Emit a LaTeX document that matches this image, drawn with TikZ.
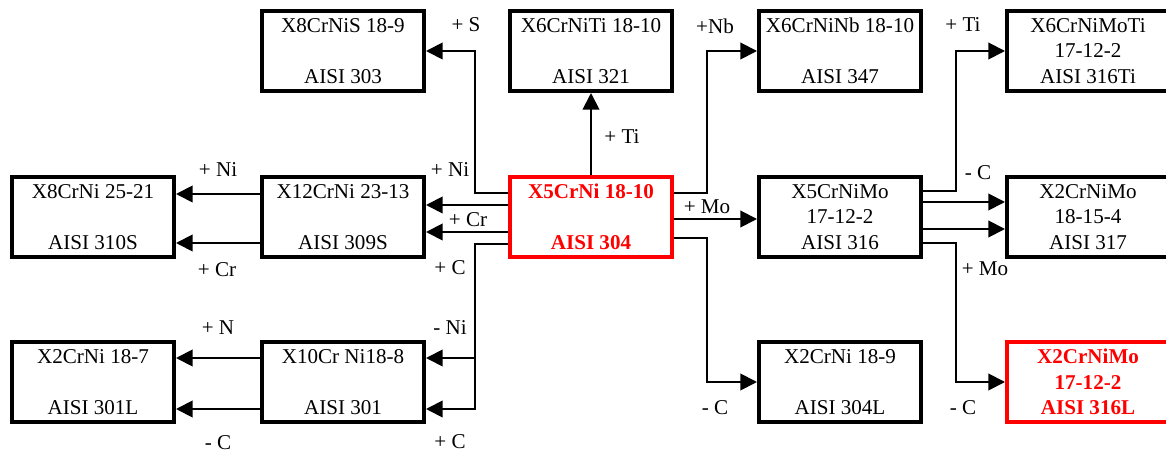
\documentclass[tikz,border=0pt]{standalone}
\usepackage{fontspec}
\setmainfont{Liberation Serif}
\usepackage{tikz}
\usetikzlibrary{positioning,arrows.meta}

\begin{document}
\begin{tikzpicture}[x=0.02cm,y=-0.02cm,
		every node/.style={font=\fontsize{12pt}{14.5pt}\selectfont},
		steel/.style={draw,line width=2.3pt,minimum width=3.24cm,minimum height=1.6cm,align=center,inner sep=1pt},
		base/.style={steel,draw=red,text=red,font=\fontsize{12pt}{14.5pt}\selectfont\bfseries},
		link/.style={line width=1.1pt,-{Triangle[length=9.5pt,width=9.5pt]}}]
	
	\useasboundingbox (0,0) rectangle (1166,452);
	
	% grades
	\node[steel] (s310) at (93,217) {X8CrNi 25-21\\~\\AISI 310S};
	\node[steel] (s301L) at (93,382) {X2CrNi 18-7\\~\\AISI 301L};
	\node[steel] (s303) at (343,51) {X8CrNiS 18-9\\~\\AISI 303};
	\node[steel] (s309) at (343,217) {X12CrNi 23-13\\~\\AISI 309S};
	\node[steel] (s301) at (343,382) {X10Cr Ni18-8\\~\\AISI 301};
	\node[steel] (s321) at (591,51) {X6CrNiTi 18-10\\~\\AISI 321};
	\node[base] (s304) at (591,217) {X5CrNi 18-10\\~\\AISI 304};
	\node[steel] (s347) at (840,51) {X6CrNiNb 18-10\\~\\AISI 347};
	\node[steel] (s316) at (840,217) {X5CrNiMo\\17-12-2\\AISI 316};
	\node[steel] (s304L) at (840,382) {X2CrNi 18-9\\~\\AISI 304L};
	\node[steel] (s316Ti) at (1088,51) {X6CrNiMoTi\\17-12-2\\AISI 316Ti};
	\node[steel] (s317) at (1088,217) {X2CrNiMo\\18-15-4\\AISI 317};
	\node[base] (s316L) at (1088,382) {X2CrNiMo\\17-12-2\\AISI 316L};
	
	% junctions
	\coordinate (jl) at (475,0);
	\coordinate (jr) at (707,0);
	\coordinate (jm) at (956,0);
	
	% from 304
	\draw[link] (s304) -- (s321);
	\draw[link] (s304.west |- 0,193) -| (jl |- s303) -- (s303);
	\draw[link] (s304.west |- 0,205) -- (s309.east |- 0,205);
	\draw[link] (s304.west |- 0,232) -- (s309.east |- 0,232);
	\draw[link] (s304.west |- 0,244) -| (jl |- 0,409) -- (s301.east |- 0,409);
	\draw[link] (jl |- 0,358) -- (s301.east |- 0,358);
	\draw[link] (s304.east |- 0,193) -| (jr |- s347) -- (s347);
	\draw[link] (s304.east |- 0,219) -- (s316.west |- 0,219);
	\draw[link] (s304.east |- 0,238) -| (jr |- s304L) -- (s304L);
	
	% from 316
	\draw[link] (s316.east |- 0,191) -| (jm |- s316Ti) -- (s316Ti);
	\draw[link] (s316.east |- 0,202) -- (s317.west |- 0,202);
	\draw[link] (s316.east |- 0,229) -- (s317.west |- 0,229);
	\draw[link] (s316.east |- 0,243) -| (jm |- s316L) -- (s316L);
	
	% side branches
	\draw[link] (s309.west |- 0,194) -- (s310.east |- 0,194);
	\draw[link] (s309.west |- 0,243) -- (s310.east |- 0,243);
	\draw[link] (s301.west |- 0,358) -- (s301L.east |- 0,358);
	\draw[link] (s301.west |- 0,409) -- (s301L.east |- 0,409);
	
	% additions
	\node (aS) at (466,25) {+ S};
	\node (aTi) at (622,137) {+ Ti};
	\node (aNb) at (715,26) {+Nb};
	\node (aTi2) at (963,25) {+ Ti};
	\node (aNi) at (450,170) {+ Ni};
	\node (aCr) at (468,220) {+ Cr};
	\node (aC) at (450,268) {+ C};
	\node (aNi2) at (218,170) {+ Ni};
	\node (aCr2) at (217,270) {+ Cr};
	\node (aN) at (218,328) {+ N};
	\node (rC) at (218,443) {- C};
	\node (rNi) at (450,328) {- Ni};
	\node (aC2) at (450,442) {+ C};
	\node (aMo) at (707,207) {+ Mo};
	\node (rC2) at (715,408) {- C};
	\node (rC3) at (978,173) {- C};
	\node (aMo2) at (985,269) {+ Mo};
	\node (rC4) at (963,408) {- C};
	
\end{tikzpicture}
\end{document}
